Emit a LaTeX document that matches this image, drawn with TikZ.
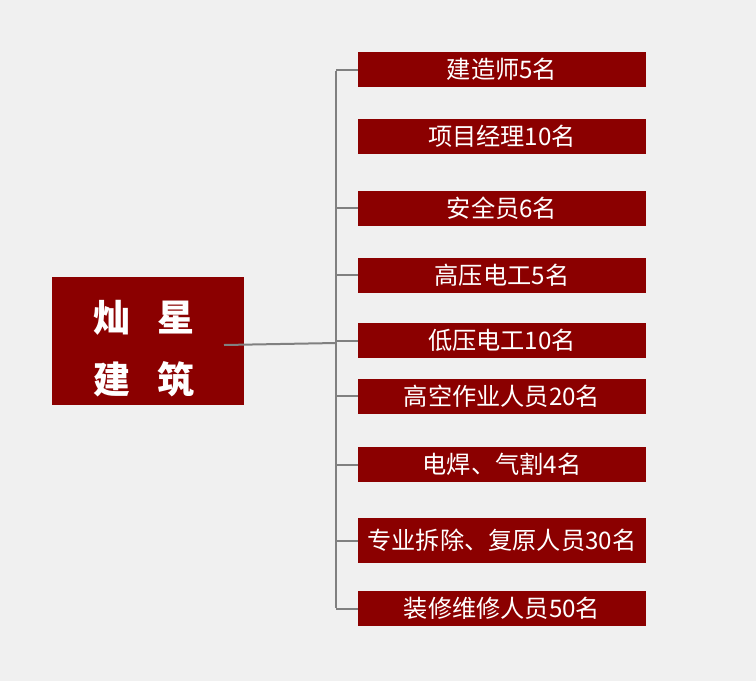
\documentclass[tikz,border=0pt]{standalone}
\usepackage{fontspec}
\setmainfont{Noto Sans CJK SC}
\newfontfamily\cjk{Noto Sans CJK SC}
\definecolor{bg}{RGB}{240,240,240}
\definecolor{boxred}{RGB}{139,0,0}
\definecolor{linegray}{RGB}{128,128,128}
\tikzset{
  item/.style={fill=boxred, text=white, minimum width=288pt, minimum height=35pt, inner sep=0pt, font=\cjk\fontsize{24.2}{26}\selectfont},
  mainbox/.style={fill=boxred, minimum width=192pt, minimum height=128pt, inner sep=0pt},
  mainlabel/.style={text=white, inner sep=0pt, align=center, font=\cjk\bfseries\fontsize{37}{62}\selectfont},
  conn/.style={draw=linegray, line width=2pt}
}
\begin{document}
\begin{tikzpicture}[x=1pt,y=-1pt]
\fill[bg] (0,0) rectangle (756,681);
\useasboundingbox (0,0) rectangle (756,681);
\node[mainbox] (main) at (148,341) {};
\node[mainlabel] (mainlbl) at (144,349) {灿\hspace{28pt}星\\建\hspace{28pt}筑};
\node[item] (b1) at (502,69.5) {建造师5名};
\node[item] (b2) at (502,136.5) {项目经理10名};
\node[item] (b3) at (502,208) {安全员6名};
\node[item] (b4) at (502,275) {高压电工5名};
\node[item] (b5) at (502,340.5) {低压电工10名};
\node[item] (b6) at (502,396) {高空作业人员20名};
\node[item] (b7) at (502,464.5) {电焊、气割4名};
\node[item, minimum height=45pt] (b8) at (502,540.5) {专业拆除、复原人员30名};
\node[item] (b9) at (502,608.5) {装修维修人员50名};
\coordinate (ttop) at (336,70.5);
\coordinate (tbot) at (336,607.5);
\coordinate (mstart) at (224,345);
\coordinate (hub) at (336,343);
\draw[conn] (ttop) -- (tbot);
\draw[conn] (mstart) -- (hub);
\foreach \b in {b1,b3,b4,b5,b6,b7,b8,b9}{
  \draw[conn] (\b.west) -- (\b.west -| ttop);
}
\end{tikzpicture}
\end{document}
